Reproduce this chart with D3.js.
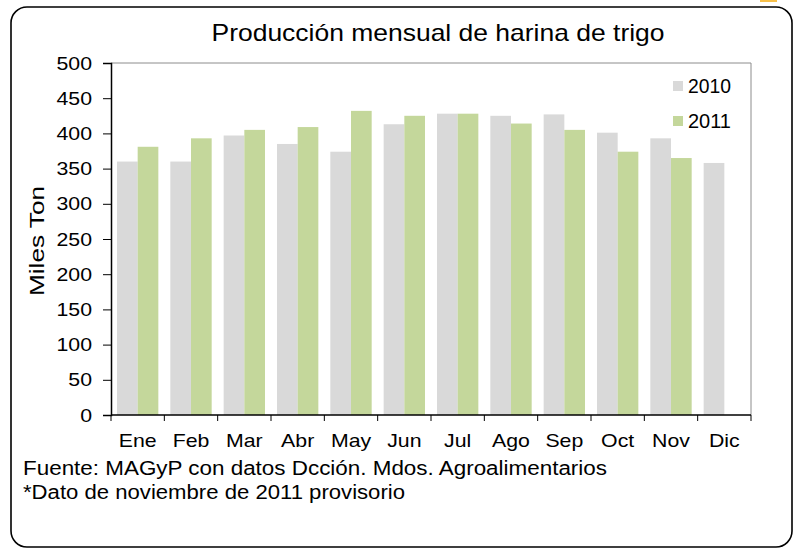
<!DOCTYPE html>
<html><head><meta charset="utf-8">
<script src="https://cdn.jsdelivr.net/npm/d3@7"></script>
<style>body{margin:0;background:#fff;} svg{display:block;font-family:"Liberation Sans",Arial,sans-serif;}</style>
</head><body>
<svg id="c" width="797" height="550"></svg>
<script>
const months = ["Ene","Feb","Mar","Abr","May","Jun","Jul","Ago","Sep","Oct","Nov","Dic"];
const values2010 = [360,360,397,385,374,413,428,425,427,401,393,358];
const values2011 = [381,393,405,409,432,425,428,414,405,374,365,null];
const seriesNames = ["2010","2011"];
const yTicks = [0,50,100,150,200,250,300,350,400,450,500];
const colors = ["#d9d9d9","#c4d79b"];
const FONT = "Liberation Sans, Arial, sans-serif";
const STRETCH = 1.12;

const svg = d3.select("#c");
svg.append("rect").attr("x",760).attr("y",0).attr("width",17).attr("height",2).attr("fill","#f7c04a");
svg.append("rect").attr("x",11).attr("y",7).attr("width",781).attr("height",540)
  .attr("rx",16).attr("ry",16).attr("fill","#fff").attr("stroke","#000").attr("stroke-width",1.6);

const L=111, R=751, T=63, B=415;
const x = d3.scaleBand().domain(months).range([L,R]).paddingInner(0).paddingOuter(0);
const x1 = d3.scaleBand().domain(seriesNames).range([0,x.bandwidth()]).paddingInner(0).paddingOuter(0.29);
const y = d3.scaleLinear().domain([0,500]).range([B,T]);

svg.append("path").attr("d",`M${L},${T}H${R}V${B}`).attr("fill","none").attr("stroke","#8c8c8c").attr("stroke-width",1);

const data = months.map((m,i)=>({m, v:[values2010[i],values2011[i]]}));
const g = svg.append("g");
data.forEach(d=>{
  seriesNames.forEach((s,j)=>{
    if(d.v[j]==null) return;
    g.append("rect").attr("x",x(d.m)+x1(s)).attr("y",y(d.v[j]))
      .attr("width",x1.bandwidth()).attr("height",B-y(d.v[j])).attr("fill",colors[j]);
  });
});

const stretchables = [];
const ya = svg.append("g").attr("transform",`translate(${L},0)`)
  .call(d3.axisLeft(y).tickValues(yTicks).tickSize(8).tickPadding(11));
ya.select(".domain").attr("stroke","#000").attr("stroke-width",1.5);
ya.selectAll(".tick line").attr("stroke","#000");
ya.selectAll("text").attr("font-size",19).attr("fill","#000").attr("font-family",FONT).each(function(){stretchables.push(this);});

const xa = svg.append("g").attr("transform",`translate(0,${B})`)
  .call(d3.axisBottom(x).tickSize(0).tickPadding(19));
xa.select(".domain").attr("d",`M${L},0H${R}`).attr("stroke","#000").attr("stroke-width",1.5);
xa.selectAll("text").attr("font-size",19).attr("fill","#000").attr("font-family",FONT).each(function(){stretchables.push(this);});
const bounds = months.map(m=>x(m)).concat([R]);
svg.append("g").selectAll("line").data(bounds).join("line")
  .attr("x1",d=>d).attr("x2",d=>d).attr("y1",B).attr("y2",B+6).attr("stroke","#000");

svg.append("text").attr("x",438).attr("y",41).attr("text-anchor","middle")
  .attr("font-size",24).attr("fill","#000")
  .attr("textLength",453).attr("lengthAdjust","spacingAndGlyphs")
  .text("Producción mensual de harina de trigo");
svg.append("text").attr("transform",`translate(44,${(T+B)/2+2}) rotate(-90)`).attr("text-anchor","middle")
  .attr("font-size",20).attr("fill","#000")
  .attr("textLength",110).attr("lengthAdjust","spacingAndGlyphs").text("Miles Ton");

seriesNames.forEach((s,j)=>{
  const yy = 86 + j*35;
  svg.append("rect").attr("x",673).attr("y",yy-5).attr("width",10).attr("height",10).attr("fill",colors[j]);
  svg.append("text").attr("x",688).attr("y",yy+7).attr("font-size",20).attr("fill","#000")
    .attr("textLength",43).attr("lengthAdjust","spacingAndGlyphs").text(s);
});

svg.append("text").attr("x",23).attr("y",475).attr("font-size",20).attr("fill","#000")
  .attr("textLength",584).attr("lengthAdjust","spacingAndGlyphs")
  .text("Fuente: MAGyP con datos Dcción. Mdos. Agroalimentarios");
svg.append("text").attr("x",23).attr("y",499).attr("font-size",20).attr("fill","#000")
  .attr("textLength",382).attr("lengthAdjust","spacingAndGlyphs")
  .text("*Dato de noviembre de 2011 provisorio");

stretchables.forEach(n=>{
  const w = n.getComputedTextLength();
  d3.select(n).attr("textLength", w*STRETCH).attr("lengthAdjust","spacingAndGlyphs");
});
</script>
</body></html>
